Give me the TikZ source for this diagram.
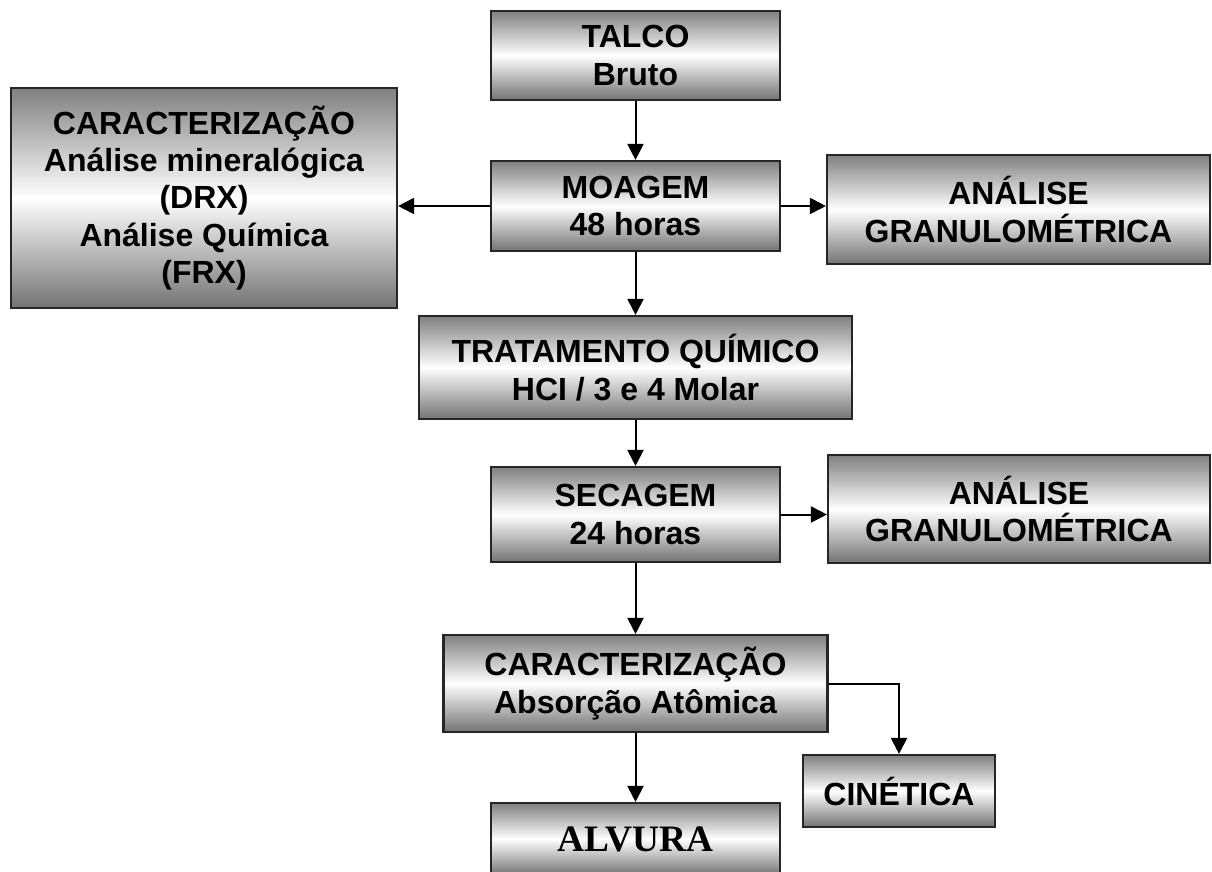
\documentclass[tikz,border=0pt]{standalone}
\usepackage{fontspec}
\setmainfont{Liberation Sans}
\newfontfamily\timesbold{Liberation Serif}
\usetikzlibrary{arrows.meta,positioning,calc}

\begin{document}
\begin{tikzpicture}[%
    x=0.75pt,
    y=-0.75pt,
    ->,
    >={Triangle[length=12pt,width=12pt]},
    line width=1.5pt,
    etapa/.style={%
      rectangle,
      draw=black!85,
      line width=1.6pt,
      top color=black!50,
      bottom color=black!55,
      middle color=white,
      align=center,
      inner sep=0pt,
      font=\bfseries\fontsize{24}{28}\selectfont
    }
  ]
    \clip (0,0) rectangle (1212,871);

    \node[etapa, minimum width=216.75pt, minimum height=66.75pt] (talco) at (635.5,55.5) {TALCO\\Bruto};
    \node[etapa, minimum width=216.75pt, minimum height=67.5pt] (moagem) at (635.5,206) {MOAGEM\\48 horas};
    \node[etapa, minimum width=289.5pt, minimum height=165pt] (caract) at (204,198)
      {CARACTERIZAÇÃO\\Análise mineralógica\\(DRX)\\Análise Química\\(FRX)};
    \node[etapa, minimum width=287.25pt, minimum height=81.75pt] (granA) at (1018.5,209.5) {ANÁLISE\\GRANULOMÉTRICA};
    \node[etapa, minimum width=324.75pt, minimum height=77.25pt] (trat) at (635.5,367.5)
      {TRATAMENTO QUÍMICO\\HCI / 3 e 4 Molar};
    \node[etapa, minimum width=216.75pt, minimum height=71.25pt] (secagem) at (635.5,514.5) {SECAGEM\\24 horas};
    \node[etapa, minimum width=286.5pt, minimum height=81pt] (granB) at (1019,509) {ANÁLISE\\GRANULOMÉTRICA};
    \node[etapa, minimum width=288pt, minimum height=72.75pt] (caract2) at (635.5,683.5)
      {CARACTERIZAÇÃO\\Absorção Atômica};
    \node[etapa, minimum width=144pt, minimum height=54pt] (cinetica) at (899,791) {CINÉTICA};
    \node[etapa, minimum width=216.75pt, minimum height=54pt,
      font=\timesbold\bfseries\fontsize{28}{32}\selectfont] (alvura) at (635.5,839) {ALVURA};

    \path (talco) edge node {} (moagem)
          (moagem) edge node {} (trat)
          (trat) edge node {} (secagem)
          (secagem) edge node {} (caract2)
          (caract2) edge node {} (alvura);
    \draw (moagem.west) -- (moagem.west -| caract.east);
    \draw (moagem.east) -- (moagem.east -| granA.west);
    \draw (secagem.east) -- (secagem.east -| granB.west);
    \draw (caract2.east) -| (cinetica.north);
\end{tikzpicture}
\end{document}
